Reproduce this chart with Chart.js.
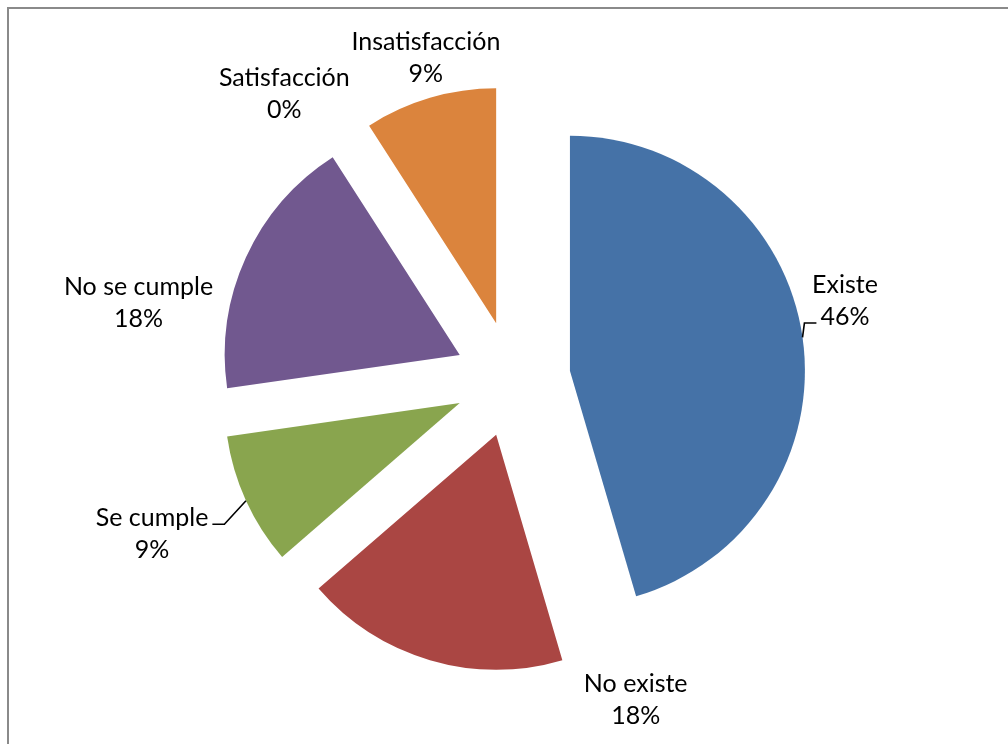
<!DOCTYPE html>
<html>
<head>
<meta charset="utf-8">
<script src="https://cdn.jsdelivr.net/npm/chart.js@4.4.0/dist/chart.umd.min.js"></script>
<style>
	body { margin: 0; background: #fff; overflow: hidden; }
	#frame { position: absolute; left: 7px; top: 7px; width: 1100px; height: 800px; border-left: 2px solid #8a8a8a; border-top: 2px solid #8a8a8a; }
	#mycanvas { position: absolute; left: 0; top: 0; }
</style>
</head>
<body>
<div id="frame"></div>
<canvas id="mycanvas" width="1008" height="744"></canvas>
<script>
var categories = ['Existe', 'No existe', 'Se cumple', 'No se cumple', 'Satisfacción', 'Insatisfacción'];
var shares = [45.5, 18.2, 9.1, 18.2, 0, 9.1];
var colors = ['#4572A7', '#AA4643', '#89A54E', '#71588F', '#4198AF', '#DB843D'];

// where each label sits: angle from top (deg, clockwise) and distance in radii
var labelAngle = [76.8, 159.0, 246.7, 281.5, 321.3, 344.9];
var labelDist = [1.453, 1.463, 1.670, 1.624, 1.553, 1.415];
var hasLeader = [true, false, true, false, false, false];

var explode = 58;
var font = '25px Lato';

var explodePlugin = {
	id: 'explode',
	beforeDatasetDraw: function(chart, args) {
		var ctx = chart.ctx;
		var arcs = chart.getDatasetMeta(args.index).data;
		for (var i = 0; i < arcs.length; i++) {
			var a = arcs[i];
			var mid = (a.startAngle + a.endAngle) / 2;
			ctx.save();
			ctx.translate(Math.cos(mid) * explode, Math.sin(mid) * explode);
			a.draw(ctx);
			ctx.restore();
		}
		return false;
	}
};

var labelPlugin = {
	id: 'pieLabels',
	afterDatasetsDraw: function(chart) {
		var ctx = chart.ctx;
		var arcs = chart.getDatasetMeta(0).data;
		ctx.save();
		ctx.font = font;
		ctx.fillStyle = '#000';
		ctx.strokeStyle = '#000';
		ctx.lineWidth = 1.6;
		ctx.textAlign = 'center';
		ctx.textBaseline = 'middle';
		for (var i = 0; i < arcs.length; i++) {
			var a = arcs[i];
			var R = a.outerRadius;
			var ang = labelAngle[i] * Math.PI / 180;
			var tx = a.x + Math.sin(ang) * labelDist[i] * R;
			var ty = a.y - Math.cos(ang) * labelDist[i] * R;
			var lines = [categories[i], Math.round(shares[i]) + '%'];
			var ys = [ty - 16, ty + 16];
			ctx.fillText(lines[0], tx, ys[0]);
			ctx.fillText(lines[1], tx, ys[1]);

			if (hasLeader[i]) {
				var mid = (a.startAngle + a.endAngle) / 2;
				var sx = a.x + Math.cos(mid) * (explode + R);
				var sy = a.y + Math.sin(mid) * (explode + R);
				var k = Math.abs(ys[0] - sy) < Math.abs(ys[1] - sy) ? 0 : 1;
				var w = ctx.measureText(lines[k]).width;
				var ey = ys[k] + 6;
				var ex, bx;
				if (sx < tx) {
					ex = tx - w / 2 - 4;
					bx = ex - 12;
				} else {
					ex = tx + w / 2 + 4;
					bx = ex + 12;
				}
				ctx.beginPath();
				ctx.moveTo(sx, sy);
				ctx.lineTo(bx, ey);
				ctx.lineTo(ex, ey);
				ctx.stroke();
			}
		}
		ctx.restore();
	}
};

var chartdata = {
	labels: categories,
	datasets: [
		{
			data: shares,
			backgroundColor: colors,
			borderWidth: 0
		}
	]
};

var pieChart = new Chart(document.getElementById('mycanvas'), {
	type: 'pie',
	data: chartdata,
	options: {
		responsive: false,
		animation: false,
		radius: 235,
		layout: { padding: { left: 17, top: 14, right: 0, bottom: 0 } },
		plugins: {
			legend: { display: false },
			tooltip: { enabled: false }
		}
	},
	plugins: [explodePlugin, labelPlugin]
});
</script>
</body>
</html>
